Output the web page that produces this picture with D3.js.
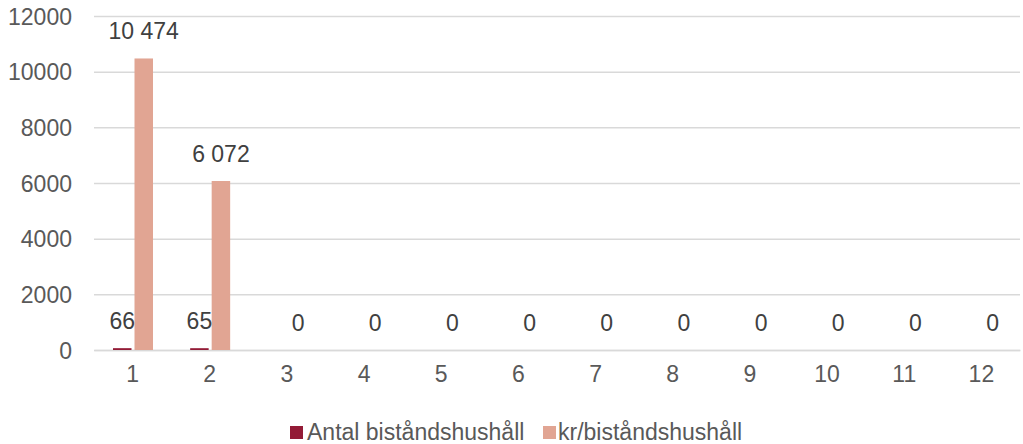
<!DOCTYPE html>
<html>
<head>
<meta charset="utf-8">
<script src="https://cdn.jsdelivr.net/npm/d3@7"></script>
<style>
  html, body { margin: 0; padding: 0; background: #fff; }
  svg { display: block; font-family: "Liberation Sans", Arial, sans-serif; }
</style>
</head>
<body>
<svg id="chart" width="1023" height="444"></svg>
<script>
// Monthly figures
const months = ["1", "2", "3", "4", "5", "6", "7", "8", "9", "10", "11", "12"];
const antal = [66, 65, 0, 0, 0, 0, 0, 0, 0, 0, 0, 0];
const krPerHushall = [10474, 6072, 0, 0, 0, 0, 0, 0, 0, 0, 0, 0];
const seriesNames = ["Antal biståndshushåll", "kr/biståndshushåll"];
const seriesColors = ["#931B36", "#E1A593"];
const yTicks = [0, 2000, 4000, 6000, 8000, 10000, 12000];

const svg = d3.select("#chart");
const m = { left: 94, right: 1020, top: 16, bottom: 350 };

const x0 = d3.scaleBand().domain(months).range([m.left, m.right]).paddingInner(0).paddingOuter(0);
const x1 = d3.scaleBand().domain([0, 1]).range([19, 59]).paddingInner(0.14);
const y = d3.scaleLinear().domain([0, 12000]).range([m.bottom, m.top]);

const fmt = v => d3.format(",")(v).replace(/,/g, " ");

// Gridlines
const yAxis = d3.axisLeft(y).tickValues(yTicks).tickSize(-(m.right - m.left)).tickFormat(d => d).tickPadding(22);
const gy = svg.append("g").attr("transform", `translate(${m.left},0)`).call(yAxis);
gy.select(".domain").remove();
gy.selectAll(".tick line").attr("stroke", "#d9d9d9").attr("stroke-width", 1.5);
gy.selectAll(".tick text").attr("fill", "#595959").attr("font-size", 23).attr("dy", "0.36em");

// Category axis
const xAxis = d3.axisBottom(x0).tickSize(0).tickPadding(16);
const gx = svg.append("g").attr("transform", `translate(0,${m.bottom})`).call(xAxis);
gx.select(".domain").attr("stroke", "#d9d9d9").attr("stroke-width", 1.5);
gx.selectAll(".tick text").attr("fill", "#595959").attr("font-size", 23).attr("dy", "0.71em");

// Bars
const rows = months.map((mo, i) => ({ mo, vals: [antal[i], krPerHushall[i]] }));
const groups = svg.append("g").selectAll("g").data(rows).join("g")
  .attr("transform", d => `translate(${x0(d.mo)},0)`);

groups.selectAll("rect").data(d => d.vals.map((v, k) => ({ v, k }))).join("rect")
  .attr("x", d => x1(d.k))
  .attr("width", x1.bandwidth())
  .attr("y", d => y(d.v))
  .attr("height", d => y(0) - y(d.v))
  .attr("fill", d => seriesColors[d.k]);

// Value labels
groups.selectAll("text.val").data(d => d.vals.map((v, k) => ({ v, k }))
    .filter(e => e.k === 1 || e.v !== 0)).join("text")
  .attr("class", "val")
  .attr("x", d => x1(d.k) + x1.bandwidth() / 2)
  .attr("y", d => y(d.v) - 19)
  .attr("text-anchor", "middle")
  .attr("font-size", 23)
  .attr("fill", "#404040")
  .text(d => fmt(d.v));

// Legend
const legend = svg.append("g");
const legendItems = [{ x: 290, tx: 307 }, { x: 543, tx: 558 }];
seriesNames.forEach((name, k) => {
  legend.append("rect").attr("x", legendItems[k].x).attr("y", 426).attr("width", 13).attr("height", 13).attr("fill", seriesColors[k]);
  legend.append("text").attr("x", legendItems[k].tx).attr("y", 440).attr("font-size", 23).attr("fill", "#595959").text(name);
});
</script>
</body>
</html>
